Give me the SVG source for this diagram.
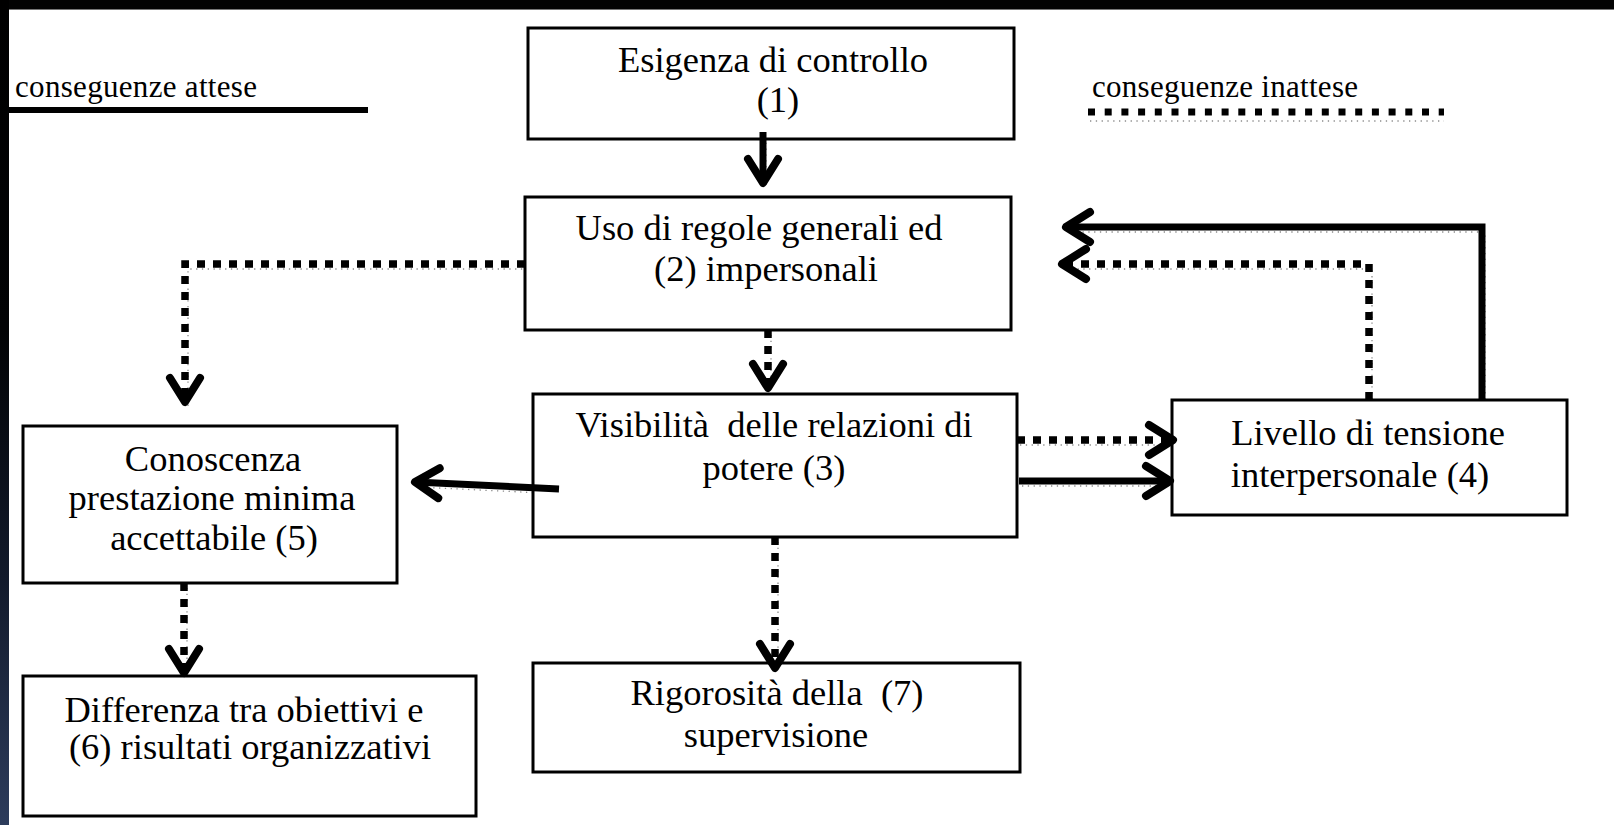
<svg xmlns="http://www.w3.org/2000/svg" width="1614" height="825" viewBox="0 0 1614 825">
  <defs>
    <linearGradient id="edgeFade" x1="0" y1="0" x2="0" y2="1">
      <stop offset="0" stop-color="#000"/>
      <stop offset="0.4" stop-color="#020305"/>
      <stop offset="0.7" stop-color="#121a2b"/>
      <stop offset="1" stop-color="#2d3c5c"/>
    </linearGradient>
    <!-- open chevron arrowhead shared by every connector -->
    <marker id="chev" markerUnits="userSpaceOnUse" viewBox="-30 -20 36 40" markerWidth="36" markerHeight="40" refX="0" refY="0" orient="auto" overflow="visible">
      <path d="M-24,-15 L0,0 L-24,15" fill="none" stroke="#000" stroke-width="8" stroke-linecap="round" stroke-linejoin="round"/>
    </marker>
  </defs>
  <style>
    .box { fill: #fff; stroke: #000; stroke-width: 3; }
    .t { font-family: "Liberation Serif", "Times New Roman", serif; font-size: 36.5px; text-anchor: middle; fill: #000; }
    .lg { font-family: "Liberation Serif", "Times New Roman", serif; font-size: 31px; fill: #000; }
    .solid { fill: none; stroke: #000; stroke-width: 7; marker-end: url(#chev); }
    .dot { fill: none; stroke: #000; stroke-width: 7.5; stroke-dasharray: 8 8; marker-end: url(#chev); }
    .shadow { fill: none; stroke: #8c8c8c; stroke-width: 1.3; stroke-dasharray: 1.3 4.5; }
  </style>

  <!-- page and frame -->
  <rect x="0" y="0" width="1614" height="825" fill="#fff"/>
  <rect x="0" y="0" width="1614" height="9" fill="#030303"/>
  <line x1="0" y1="9.5" x2="1614" y2="9.5" stroke="#777" stroke-width="1"/>
  <rect x="0" y="0" width="9" height="825" fill="url(#edgeFade)"/>

  <!-- legend -->
  <g id="legend">
    <text class="lg" x="15" y="97" textLength="242">conseguenze attese</text>
    <line x1="9" y1="110" x2="368" y2="110" stroke="#000" stroke-width="6"/>
    <text class="lg" x="1092" y="97" textLength="266">conseguenze inattese</text>
    <line x1="1088" y1="112" x2="1444" y2="112" stroke="#000" stroke-width="7" stroke-dasharray="7 9.7"/>
    <line x1="1090" y1="121" x2="1444" y2="121" class="shadow"/>
  </g>

  <!-- faint dotted shadow trails under the connectors -->
  <g id="connector-shadows" transform="translate(3,5)">
    <path class="shadow" d="M763,132 V183"/>
    <path class="shadow" d="M768,330 V388"/>
    <path class="shadow" d="M525,264 H185 V402"/>
    <path class="shadow" d="M559,489 L415,482"/>
    <path class="shadow" d="M1017,440 H1173"/>
    <path class="shadow" d="M1019,481 H1170"/>
    <path class="shadow" d="M1482,400 V227 H1066"/>
    <path class="shadow" d="M1369,400 V264 H1062"/>
    <path class="shadow" d="M775,537 V668"/>
    <path class="shadow" d="M184,583 V673"/>
  </g>

  <!-- nodes -->
  <g id="n1">
    <rect class="box" x="528" y="28" width="486" height="111"/>
    <text class="t" x="773" y="72">Esigenza di controllo</text>
    <text class="t" x="778" y="112">(1)</text>
  </g>
  <g id="n2">
    <rect class="box" x="525" y="197" width="486" height="133"/>
    <text class="t" x="759" y="240">Uso di regole generali ed</text>
    <text class="t" x="766" y="281">(2) impersonali</text>
  </g>
  <g id="n3">
    <rect class="box" x="533" y="394" width="484" height="143"/>
    <text class="t" x="774" y="437" xml:space="preserve">Visibilità  delle relazioni di</text>
    <text class="t" x="774" y="480">potere (3)</text>
  </g>
  <g id="n4">
    <rect class="box" x="1172" y="400" width="395" height="115"/>
    <text class="t" x="1368" y="445">Livello di tensione</text>
    <text class="t" x="1360" y="487">interpersonale (4)</text>
  </g>
  <g id="n5">
    <rect class="box" x="23" y="426" width="374" height="157"/>
    <text class="t" x="213" y="471">Conoscenza</text>
    <text class="t" x="212" y="510">prestazione minima</text>
    <text class="t" x="214" y="550">accettabile (5)</text>
  </g>
  <g id="n6">
    <rect class="box" x="23" y="676" width="453" height="140"/>
    <text class="t" x="244" y="722">Differenza tra obiettivi e</text>
    <text class="t" x="250" y="759">(6) risultati organizzativi</text>
  </g>
  <g id="n7">
    <rect class="box" x="533" y="663" width="487" height="109"/>
    <text class="t" x="777" y="705" xml:space="preserve">Rigorosità della  (7)</text>
    <text class="t" x="776" y="747">supervisione</text>
  </g>

  <!-- connectors: solid = expected, square-dotted = unexpected -->
  <g id="connectors">
    <path class="solid" d="M763,132 V183"/>
    <path class="dot" d="M768,330 V388"/>
    <path class="dot" d="M525,264 H185 V402"/>
    <path class="solid" d="M559,489 L415,482"/>
    <path class="dot" d="M1017,440 H1173"/>
    <path class="solid" d="M1019,481 H1170"/>
    <path class="solid" d="M1482,400 V227 H1066"/>
    <path class="dot" d="M1369,400 V264 H1062"/>
    <path class="dot" d="M775,537 V668"/>
    <path class="dot" d="M184,583 V673"/>
  </g>
</svg>
